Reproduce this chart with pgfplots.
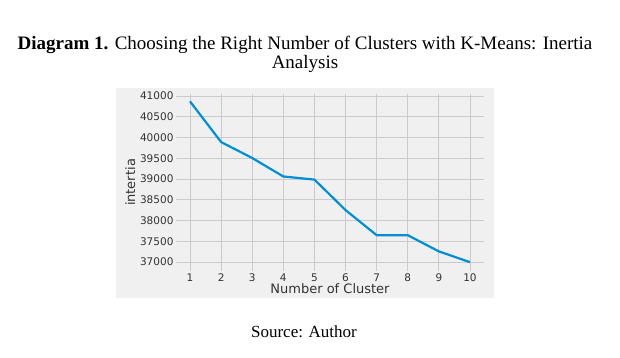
\documentclass[border=0pt]{standalone}
\usepackage{pgfplots}
\pgfplotsset{compat=1.18}
\usepackage{fontspec}
\setmainfont{Liberation Serif}
\newfontfamily\dejavu{DejaVu Sans}
\definecolor{bgc}{HTML}{F0F0F0}
\definecolor{gridc}{HTML}{CBCBCB}
\definecolor{linec}{HTML}{008FD5}
\definecolor{tickc}{HTML}{333333}
\begin{document}
\begin{tikzpicture}[x=1pt,y=1pt]
\fill[white] (0,0) rectangle (620,357);
\fill[bgc] (116,59) rectangle (494,269);
\node[anchor=base,align=center,font=\fontsize{19}{19}\selectfont] at (305,289) {\textbf{Diagram 1.} Choosing the Right Number of Clusters with K-Means: Inertia\\Analysis};
\node[anchor=base,font=\fontsize{17}{18}\selectfont] at (304,20) {Source: Author};
\begin{axis}[
  at={(176pt,86.2pt)}, anchor=south west,
  scale only axis, width=308pt, height=176.6pt,
  xmin=0.55, xmax=10.45, ymin=36787, ymax=41043,
  axis line style={draw=none},
  axis background/.style={fill=bgc},
  xtick={1,...,10},
  ytick={37000,37500,...,41000},
  major tick length=0pt,
  grid=major,
  major grid style={gridc, line width=0.9pt},
  scaled y ticks=false,
  /pgf/number format/.cd, use comma=false, 1000 sep={}, assume math mode=true,
  /pgfplots/.cd,
  tick label style={font=\dejavu\fontsize{10.5}{12}\selectfont, text=tickc},
  xlabel={Number of Cluster},
  ylabel={intertia},
  label style={font=\dejavu\fontsize{13}{15}\selectfont, text=tickc},
  xlabel style={at={(axis description cs:0.5,0)}, anchor=center, yshift=-17.5pt},
  ylabel style={yshift=-2pt},
  xticklabel style={anchor=base, yshift=-10.5pt},
  yticklabel style={xshift=1pt},
]
\addplot[linec, line width=2.2pt, line join=round] coordinates {
 (1,40870) (2,39890) (3,39505) (4,39060) (5,38985) (6,38250) (7,37645) (8,37645) (9,37255) (10,36995)
};
\end{axis}
\end{tikzpicture}
\end{document}
